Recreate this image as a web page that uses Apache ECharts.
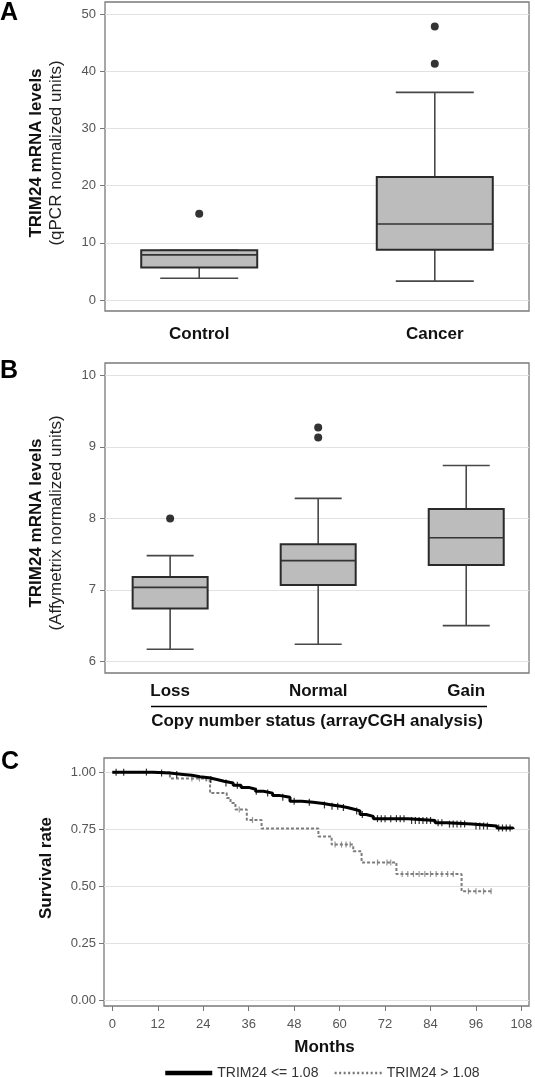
<!DOCTYPE html>
<html><head><meta charset="utf-8">
<script src="https://cdn.jsdelivr.net/npm/echarts@6/dist/echarts.min.js"></script>
<style>html,body{margin:0;padding:0;background:#fff}#c{width:535px;height:1077px}</style>
</head><body><div id="c"></div>
<script>
const FONT = '"Liberation Sans", Arial, Helvetica, sans-serif';

// ---- Panel A: qPCR ----
const catsA = ['Control', 'Cancer'];
// [lower whisker, Q1, median, Q3, upper whisker]
const statsA = [[3.8, 5.7, 7.9, 8.7, 8.7], [3.3, 8.8, 13.3, 21.5, 36.3]];
const outliersA = [[0, 15.1], [1, 41.3], [1, 47.8]];
const ticksA = [0, 10, 20, 30, 40, 50];

// ---- Panel B: Affymetrix by copy number ----
const catsB = ['Loss', 'Normal', 'Gain'];
const statsB = [[6.17, 6.74, 7.035, 7.18, 7.48], [6.24, 7.07, 7.41, 7.64, 8.28], [6.50, 7.35, 7.73, 8.13, 8.74]];
const outliersB = [[0, 8.0], [1, 9.13], [1, 9.27]];
const ticksB = [6, 7, 8, 9, 10];

// ---- Panel C: Kaplan-Meier ----
const monthTicks = [0, 12, 24, 36, 48, 60, 72, 84, 96, 108];
const survTicks = [0, 0.25, 0.5, 0.75, 1];
const lowTimes = [0, 10.8, 15.2, 18.7, 21, 23.1, 25.5, 27.6, 29.5, 31.9, 34, 36, 37.8, 39.9, 42.3, 44, 46.9, 50, 53, 55.7, 58, 60.3, 62, 63.6, 65.4, 67, 68.9, 78.1, 85.2, 88.3, 94.9, 101.5, 105.8];
const lowSurv = [1, 0.996, 0.99, 0.986, 0.98, 0.975, 0.968, 0.96, 0.952, 0.942, 0.933, 0.925, 0.916, 0.908, 0.898, 0.89, 0.872, 0.868, 0.862, 0.856, 0.85, 0.845, 0.838, 0.83, 0.814, 0.806, 0.796, 0.788, 0.778, 0.772, 0.764, 0.755, 0.75];
const highTimes = [0, 15.2, 24.8, 25.8, 30.2, 31.2, 32.5, 35.5, 39.4, 54.4, 57.9, 63.6, 65.8, 75.0, 92.2, 100.1];
const highSurv = [1, 0.972, 0.962, 0.908, 0.887, 0.865, 0.836, 0.79, 0.753, 0.718, 0.682, 0.653, 0.604, 0.553, 0.477, 0.477];
const lowCensor = [1, 3, 9, 13, 17, 26, 30, 33, 38, 41, 45, 48, 52, 56, 58, 59.5, 61, 64.5, 66, 70, 71, 72, 73.5, 75, 76, 77, 79, 80, 81, 82, 83, 84, 86, 87, 89, 90, 91, 92, 93, 96, 97, 98, 99, 102, 103, 104, 105];
const highCensor = [21, 23, 33.5, 37, 58.8, 60.5, 61.7, 62.8, 70, 72.5, 73.5, 76.5, 78, 79.5, 81, 82.5, 84, 85.5, 87, 88.5, 90, 94, 96, 98, 100];
const legendNames = ['TRIM24 <= 1.08', 'TRIM24 > 1.08'];

function survAt(ts, ss, t) { let v = ss[0]; for (let i = 0; i < ts.length; i++) { if (ts[i] <= t) v = ss[i]; } return v; }

function boxRenderer(boxW, capW) {
  return function (params, api) {
    const x = api.value(0);
    const p = i => api.coord([x, api.value(i)]);
    const lo = p(1), q1 = p(2), md = p(3), q3 = p(4), hi = p(5);
    const cx = lo[0];
    const ws = { stroke: '#474747', lineWidth: 1.6 };
    return {
      type: 'group',
      children: [
        { type: 'line', shape: { x1: cx, y1: lo[1], x2: cx, y2: q1[1] }, style: ws },
        { type: 'line', shape: { x1: cx, y1: q3[1], x2: cx, y2: hi[1] }, style: ws },
        { type: 'line', shape: { x1: cx - capW / 2, y1: lo[1], x2: cx + capW / 2, y2: lo[1] }, style: ws },
        { type: 'line', shape: { x1: cx - capW / 2, y1: hi[1], x2: cx + capW / 2, y2: hi[1] }, style: ws },
        { type: 'rect', shape: { x: cx - boxW / 2, y: q3[1], width: boxW, height: q1[1] - q3[1] }, style: { fill: '#bcbcbc', stroke: '#2a2a2a', lineWidth: 2 } },
        { type: 'line', shape: { x1: cx - boxW / 2, y1: md[1], x2: cx + boxW / 2, y2: md[1] }, style: { stroke: '#333', lineWidth: 1.6 } }
      ]
    };
  };
}

const gridBase = { show: true, borderColor: '#7a7a7a', borderWidth: 1.3, backgroundColor: 'transparent', containLabel: false, outerBoundsMode: 'none' };
const tickLbl = { fontSize: 13, color: '#555', fontFamily: FONT };
const catLbl = { fontSize: 17, fontWeight: 'bold', color: '#111', fontFamily: FONT };
const split = { show: true, lineStyle: { color: '#e2e2e2', width: 1 } };
const noLine = { show: false, onZero: false };
const yTick = { show: true, length: 5, inside: false, lineStyle: { color: '#777', width: 1 } };
const richTitle = {
  b: { fontSize: 17, fontWeight: 'bold', fontFamily: FONT, color: '#111', lineHeight: 20 },
  n: { fontSize: 17, fontFamily: FONT, color: '#222', lineHeight: 20 }
};

const option = {
  animation: false,
  backgroundColor: '#fff',
  grid: [
    Object.assign({ left: 105, right: 6, top: 2, height: 309 }, gridBase),
    Object.assign({ left: 105, right: 6, top: 363, height: 310 }, gridBase),
    Object.assign({ left: 104, right: 6, top: 758, height: 248 }, gridBase)
  ],
  xAxis: [
    { gridIndex: 0, type: 'value', position: 'bottom', min: -0.4, max: 1.4, axisLine: noLine, axisTick: { show: false }, splitLine: { show: false },
      axisLabel: Object.assign({ customValues: catsA.map((_, i) => i), formatter: v => catsA[Math.round(v)], margin: 15 }, catLbl) },
    { gridIndex: 1, type: 'value', position: 'bottom', min: -0.44, max: 2.424, axisLine: noLine, axisTick: { show: false }, splitLine: { show: false },
      axisLabel: Object.assign({ customValues: catsB.map((_, i) => i), formatter: v => catsB[Math.round(v)], margin: 10 }, catLbl),
      name: 'Copy number status (arrayCGH analysis)', nameLocation: 'middle', nameGap: 40, nameTextStyle: catLbl },
    { gridIndex: 2, type: 'value', position: 'bottom', min: -2.2, max: 110, axisLine: noLine, splitLine: { show: false },
      axisTick: { show: true, length: 5, customValues: monthTicks, lineStyle: { color: '#777' } },
      axisLabel: Object.assign({ customValues: monthTicks, margin: 12 }, tickLbl),
      name: 'Months', nameLocation: 'middle', nameGap: 33, nameTextStyle: Object.assign({ padding: [0, 0, 0, 16] }, catLbl) }
  ],
  yAxis: [
    { gridIndex: 0, type: 'value', position: 'left', min: -1.92, max: 52.1, axisLine: noLine, splitLine: split,
      axisTick: Object.assign({ customValues: ticksA }, yTick),
      axisLabel: Object.assign({ customValues: ticksA, margin: 9 }, tickLbl),
      name: '{b|TRIM24 mRNA levels}\n{n|(qPCR normalized units)}', nameLocation: 'middle', nameRotate: 90, nameGap: 39,
      nameTextStyle: { rich: richTitle, padding: [0, 0, 0, 7] } },
    { gridIndex: 1, type: 'value', position: 'left', min: 5.838, max: 10.173, axisLine: noLine, splitLine: split,
      axisTick: Object.assign({ customValues: ticksB }, yTick),
      axisLabel: Object.assign({ customValues: ticksB, margin: 9 }, tickLbl),
      name: '{b|TRIM24 mRNA levels}\n{n|(Affymetrix normalized units)}', nameLocation: 'middle', nameRotate: 90, nameGap: 39,
      nameTextStyle: { rich: richTitle, padding: [0, 10, 0, 0] } },
    { gridIndex: 2, type: 'value', position: 'left', min: -0.026, max: 1.062, axisLine: noLine, splitLine: split,
      axisTick: Object.assign({ customValues: survTicks }, yTick),
      axisLabel: Object.assign({ customValues: survTicks, margin: 8, formatter: v => v.toFixed(2) }, tickLbl),
      name: 'Survival rate', nameLocation: 'middle', nameRotate: 90, nameGap: 49,
      nameTextStyle: Object.assign({ padding: [0, 0, 0, 28] }, catLbl) }
  ],
  legend: {
    data: [
      { name: legendNames[0], lineStyle: { width: 4.5, color: '#000' } },
      { name: legendNames[1], lineStyle: { width: 2.5, color: '#777', type: [2, 2.5] } }
    ],
    left: 158, top: 1061, itemWidth: 47, itemHeight: 4, itemGap: 15,
    itemStyle: { opacity: 0 },
    textStyle: { fontSize: 14, color: '#333', fontFamily: FONT }
  },
  graphic: [
    { type: 'text', left: 0, top: 1, style: { text: 'A', font: 'bold 25px ' + FONT, fill: '#000' } },
    { type: 'text', left: 0, top: 359, style: { text: 'B', font: 'bold 25px ' + FONT, fill: '#000' } },
    { type: 'text', left: 1, top: 750, style: { text: 'C', font: 'bold 25px ' + FONT, fill: '#000' } },
    { type: 'line', shape: { x1: 151, y1: 706.5, x2: 487, y2: 706.5 }, style: { stroke: '#000', lineWidth: 1.6 } }
  ],
  series: [
    { type: 'custom', xAxisIndex: 0, yAxisIndex: 0, z: 2, renderItem: boxRenderer(116, 78),
      encode: { x: 0, y: [1, 2, 3, 4, 5] }, data: statsA.map((s, i) => [i].concat(s)) },
    { type: 'scatter', xAxisIndex: 0, yAxisIndex: 0, z: 3, symbol: 'circle', symbolSize: 8,
      itemStyle: { color: '#000' }, data: outliersA },
    { type: 'custom', xAxisIndex: 1, yAxisIndex: 1, z: 2, renderItem: boxRenderer(75, 47),
      encode: { x: 0, y: [1, 2, 3, 4, 5] }, data: statsB.map((s, i) => [i].concat(s)) },
    { type: 'scatter', xAxisIndex: 1, yAxisIndex: 1, z: 3, symbol: 'circle', symbolSize: 8,
      itemStyle: { color: '#000' }, data: outliersB },
    { name: legendNames[0], type: 'line', xAxisIndex: 2, yAxisIndex: 2, z: 4, step: 'end', symbol: 'none', showSymbol: false,
      lineStyle: { color: '#000', width: 3 }, itemStyle: { color: '#000' },
      data: lowTimes.map((t, i) => [t, lowSurv[i]]) },
    { name: legendNames[1], type: 'line', xAxisIndex: 2, yAxisIndex: 2, z: 3, step: 'end', symbol: 'none', showSymbol: false,
      lineStyle: { color: '#7d7d7d', width: 2, type: [3, 2] }, itemStyle: { color: '#7d7d7d' },
      data: highTimes.map((t, i) => [t, highSurv[i]]) },
    { type: 'scatter', xAxisIndex: 2, yAxisIndex: 2, z: 3, symbol: 'rect', symbolSize: [1.2, 6],
      itemStyle: { color: '#7d7d7d' }, data: highCensor.map(t => [t, survAt(highTimes, highSurv, t)]) },
    { type: 'scatter', xAxisIndex: 2, yAxisIndex: 2, z: 5, symbol: 'rect', symbolSize: [1.2, 7],
      itemStyle: { color: '#000' }, data: lowCensor.map(t => [t, survAt(lowTimes, lowSurv, t)]) }
  ]
};
const chart = echarts.init(document.getElementById('c'), null, { renderer: 'canvas' });
chart.setOption(option);
</script></body></html>
